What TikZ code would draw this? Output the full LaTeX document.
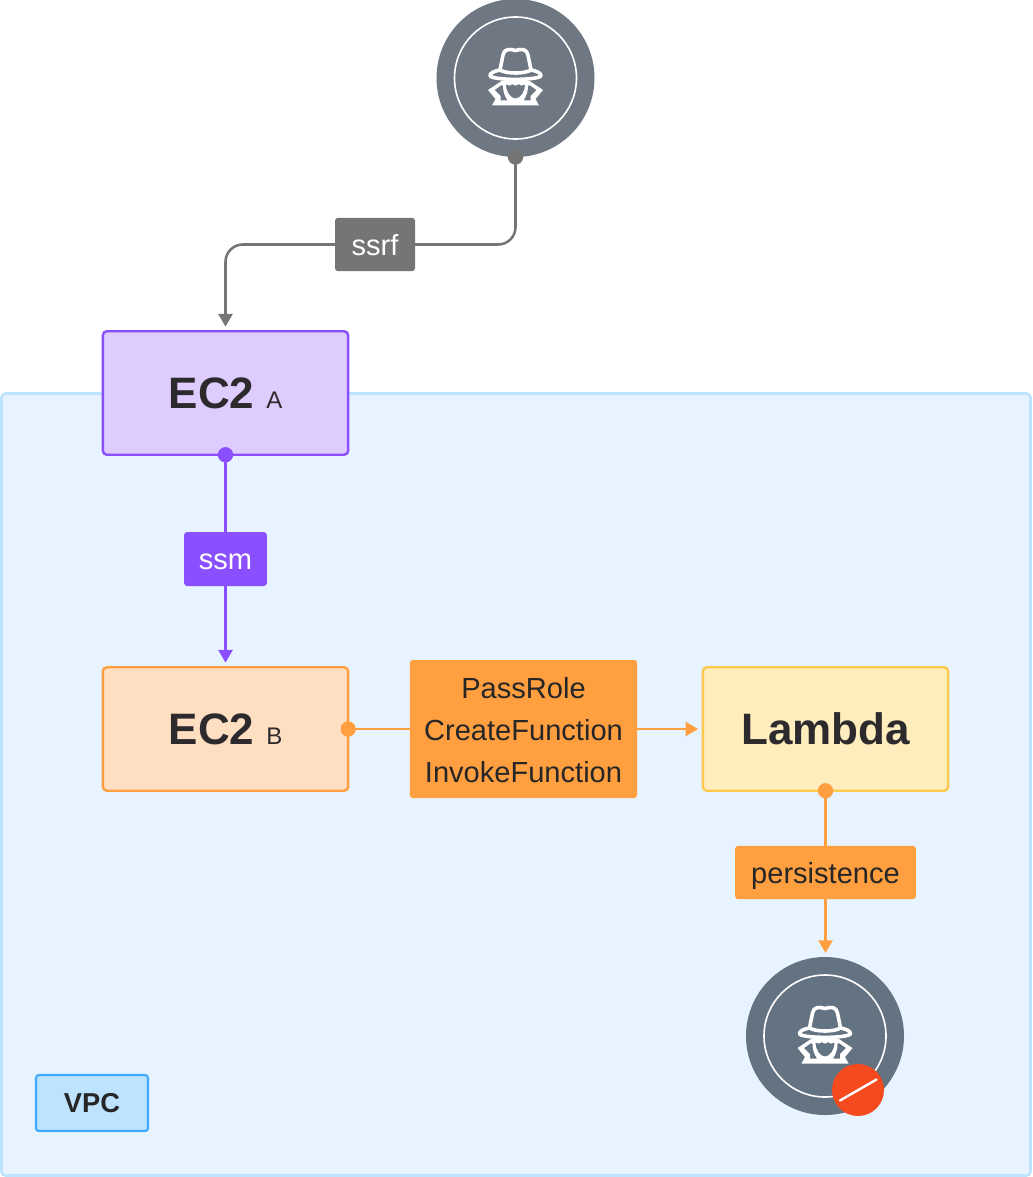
\documentclass[tikz,border=0pt]{standalone}
\usepackage{fontspec}
\setmainfont{Liberation Sans}
\usetikzlibrary{arrows.meta}
\usetikzlibrary{calc}

\definecolor{vpcfill}{HTML}{E7F4FF}
\definecolor{vpcline}{HTML}{BDE3FF}
\definecolor{vpctag}{HTML}{3FA9FF}
\definecolor{purpleline}{HTML}{8A4FFF}
\definecolor{purplefill}{HTML}{DFCCFF}
\definecolor{orangeline}{HTML}{FF9F40}
\definecolor{orangefill}{HTML}{FFDFC2}
\definecolor{yellowline}{HTML}{FFC94D}
\definecolor{yellowfill}{HTML}{FFEDBD}
\definecolor{greyline}{HTML}{757575}
\definecolor{slatetop}{HTML}{6F7882}
\definecolor{slatelow}{HTML}{647382}
\definecolor{badgered}{HTML}{F44A1E}
\definecolor{inktext}{HTML}{2D2A2E}

\tikzset{
	ecbox/.style={draw, rectangle, rounded corners=3pt, line width=1.8pt, minimum width=184pt, minimum height=92.6pt, inner sep=0pt, outer sep=0pt, text=inktext, font=\fontsize{18}{22}\selectfont},
	tagbox/.style={rectangle, rounded corners=2.2pt, inner sep=0pt, outer sep=0pt, font=\fontsize{21.8}{31.5}\selectfont},
	oneline/.style={text height=18pt, text depth=2pt},
	enddot/.style={circle, minimum size=11.5pt, inner sep=0pt, outer sep=0pt},
	link/.style={line width=1.9pt, -{Triangle[length=9.5pt,width=10.5pt]}},
	stub/.style={line width=1.9pt},
	spydisc/.style={circle, minimum size=118.5pt, inner sep=0pt, outer sep=0pt},
	pics/spyicon/.style={code={
		\draw[white, line width=2.7pt, line join=round, line cap=round] (-15.5,-8) -- (-12.5,-23) .. controls (-11.5,-29) and (-6,-29.5) .. (0,-27.5) .. controls (6,-29.5) and (11.5,-29) .. (12.5,-23) -- (15.5,-8);
		\draw[white, line width=2.7pt, line join=round] (-15.5,-8) .. controls (-21,-7) and (-26,-5) .. (-25.5,-2) .. controls (-21,2.5) and (21,2.5) .. (25.5,-2) .. controls (26,-5) and (21,-7) .. (15.5,-8) .. controls (9,-4) and (-9,-4) .. (-15.5,-8) -- cycle;
		\fill[white, even odd rule] (-14,3) -- (-27.5,12) -- (-20,21) -- (-23.5,27.5) -- (23.5,27.5) -- (20,21) -- (27.5,12) -- (14,3) -- cycle
			(-14,7) -- (-21,12) -- (-15,18) -- (-15,22.5) -- (-8,22.5) .. controls (-11,18) and (-12.5,13) .. (-12.5,8) -- cycle
			(14,7) -- (21,12) -- (15,18) -- (15,22.5) -- (8,22.5) .. controls (11,18) and (12.5,13) .. (12.5,8) -- cycle
			(-9.5,6.5) .. controls (-7,8) and (-4,8) .. (-3,6) .. controls (-2,8) and (2,8) .. (3,6) .. controls (4,8) and (7,8) .. (9.5,6.5) .. controls (9.5,14) and (5,20.5) .. (0,20.5) .. controls (-5,20.5) and (-9.5,14) .. (-9.5,6.5) -- cycle;
	}},
}

\begin{document}
\begin{tikzpicture}[x=0.75pt,y=-0.75pt]
	\useasboundingbox (0,0) rectangle (1032,1177);

	\fill[white] (0,0) rectangle (1032,1177);
	\draw[vpcline, fill=vpcfill, line width=1.9pt, rounded corners=3pt] (1.5,393.5) rectangle (1030.5,1175.5);
	\node[tagbox, draw=vpctag, fill=vpcline, line width=1.6pt, minimum width=84pt, minimum height=42pt, text=black!85, font=\fontsize{20.5}{24}\selectfont\bfseries] (vpc) at (92,1103) {VPC};

	\node[spydisc, fill=slatetop] (attacker) at (515.5,78) {};
	\draw[white, line width=1.2pt] (attacker) circle (61);
	\pic at (attacker) {spyicon};

	\node[ecbox, draw=purpleline, fill=purplefill] (eca) at (225.5,393) {{\fontsize{33}{36}\selectfont\bfseries EC2}\hspace{9pt}A};
	\node[ecbox, draw=orangeline, fill=orangefill] (ecb) at (225.5,729) {{\fontsize{33}{36}\selectfont\bfseries EC2}\hspace{9pt}B};
	\node[ecbox, draw=yellowline, fill=yellowfill, text depth=1.2pt, font=\fontsize{33}{36}\selectfont\bfseries] (lambda) at (825.5,729) {Lambda};

	\node[tagbox, oneline, fill=greyline, text=white, minimum width=60pt, minimum height=40pt] (ssrf) at (375,244.5) {ssrf};
	\node[tagbox, oneline, fill=purpleline, text=white, minimum width=62pt, minimum height=40.5pt] (ssm) at (225.5,559) {ssm};
	\node[tagbox, fill=orangeline, text=black!85, minimum width=170.5pt, minimum height=103.5pt, align=center] (roles) at (523.5,729) {\rule{0pt}{17.5pt}PassRole\\CreateFunction\\InvokeFunction};
	\node[tagbox, oneline, fill=orangeline, text=black!85, minimum width=135.5pt, minimum height=40pt] (persist) at (825.5,872.5) {persistence};

	\node[spydisc, fill=slatelow] (revoked) at (825,1036) {};
	\draw[white, line width=1.2pt] (revoked) circle (61);
	\pic at (revoked) {spyicon};
	\node[circle, fill=badgered, minimum size=39pt, inner sep=0pt] (badge) at (858,1090) {};
	\draw[white, line width=1.8pt, line cap=round] ($(badge)+(-18,10.5)$) -- ($(badge)+(18.5,-10.5)$);

	\node[enddot, fill=greyline] (dtop) at (attacker.south) {};
	\node[enddot, fill=purpleline] (da) at (eca.south) {};
	\node[enddot, fill=orangeline] (db) at (ecb.east) {};
	\node[enddot, fill=orangeline] (dl) at (lambda.south) {};

	\draw[stub, greyline, rounded corners=13pt] (dtop.center) |- (ssrf.east);
	\draw[link, greyline, rounded corners=13pt, shorten >=3.5pt] (ssrf.west) -| (eca.north);
	\draw[stub, purpleline] (da.center) -- (ssm.north -| da);
	\draw[link, purpleline, shorten >=3.5pt] (ssm.south -| ecb.north) -- (ecb.north);
	\draw[stub, orangeline] (db.center) -- (roles.west |- db);
	\draw[link, orangeline, shorten >=3.5pt] (roles.east |- lambda) -- (lambda.west);
	\draw[stub, orangeline] (dl.center) -- (persist.north);
	\draw[link, orangeline, shorten >=3pt] (persist.south) -- (persist.south |- revoked.north);
\end{tikzpicture}
\end{document}
